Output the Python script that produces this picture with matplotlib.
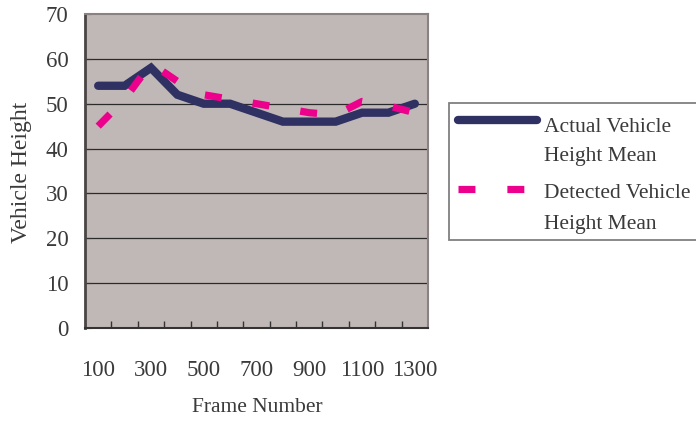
import matplotlib
matplotlib.use("Agg")
import matplotlib.pyplot as plt
from matplotlib.lines import Line2D
from matplotlib.patches import Rectangle
import numpy as np

plt.rcParams['font.family'] = ['Liberation Serif', 'DejaVu Serif']
plt.rcParams['lines.scale_dashes'] = False

frames = [100, 200, 300, 400, 500, 600, 700, 800, 900, 1000, 1100, 1200, 1300]
actual_mean = [54, 54, 58, 52, 50, 50, 48, 46, 46, 46, 48, 48, 50]
detected_mean = [45, 51, 59, 55, 52, 51, 50, 49, 48, 47.5, 50.5, 49.5, 48]
y_ticks = [0, 10, 20, 30, 40, 50, 60, 70]

navy = '#2f3163'
magenta = '#ec008c'
text_col = '#3a3a3a'
dash_pattern = (0, (12.2, 22.6))

W, H = 696, 425
fig = plt.figure(figsize=(W / 100, H / 100), dpi=100)
ax = fig.add_axes([85 / W, (H - 328) / H, (428 - 85) / W, (328 - 14) / H])
ax.set_facecolor('#c0b8b6')

x = np.arange(len(frames))
ax.plot(x, actual_mean, color=navy, lw=6.0, solid_capstyle='round',
        solid_joinstyle='miter', zorder=3)
ax.plot(x, detected_mean, color=magenta, lw=5.2, linestyle=dash_pattern,
        dash_capstyle='butt', zorder=4)

ax.set_xlim(-0.5, len(frames) - 0.5)
ax.set_ylim(0, 70)
ax.set_yticks(y_ticks)
ax.set_yticklabels([str(v) for v in y_ticks])
for v in y_ticks[1:-1]:
    ax.axhline(v, color='#2a2a2a', lw=0.9, zorder=1)

ax.set_xticks(x[::2])
ax.set_xticklabels([str(f) for f in frames[::2]])
ax.set_xticks(np.arange(0.5, len(frames) - 0.5, 1.0), minor=True)
ax.tick_params(axis='x', which='major', length=0, pad=23, labelsize=16.5,
               labelcolor=text_col)
ax.tick_params(axis='x', which='minor', direction='in', length=5,
               color='#333333', width=1)
ax.tick_params(axis='y', direction='in', length=4, pad=12, labelsize=16.5,
               labelcolor=text_col, color='#333333')

for side in ['top', 'right']:
    ax.spines[side].set_color('#8a8282')
    ax.spines[side].set_linewidth(1.5)
ax.spines['left'].set_color('#4a4444')
ax.spines['left'].set_linewidth(2)
ax.spines['bottom'].set_color('#333333')
ax.spines['bottom'].set_linewidth(1.5)

ax.set_xlabel('Frame Number', fontsize=15.5, color=text_col)
ax.xaxis.set_label_coords((257 - 85) / 343, -(408 - 328) / 314)
ax.xaxis.label.set_va('center')
ax.set_ylabel('Vehicle Height', fontsize=17, color=text_col)
ax.yaxis.set_label_coords((22 - 85) / 343, (328 - 172) / 314)
ax.yaxis.label.set_va('center')

# legend box
fig.add_artist(Rectangle((449 / W, (H - 240) / H), (W + 5 - 449) / W, (240 - 103) / H,
                         transform=fig.transFigure, facecolor='white',
                         edgecolor='#808080', lw=1.3, zorder=5))
fig.add_artist(Line2D([458 / W, 537 / W], [(H - 120) / H] * 2,
                      transform=fig.transFigure, color=navy, lw=6.0,
                      solid_capstyle='round', zorder=6))
fig.add_artist(Line2D([458 / W, 540 / W], [(H - 189) / H] * 2,
                      transform=fig.transFigure, color=magenta, lw=5.2,
                      linestyle=(0, (12.2, 23.0)), dash_capstyle='butt', zorder=6))
fig.text(544 / W, (H - 127) / H, 'Actual Vehicle', fontsize=15.5,
         color=text_col, va='center', ha='left', zorder=7)
fig.text(544 / W, (H - 157) / H, 'Height Mean', fontsize=15.5,
         color=text_col, va='center', ha='left', zorder=7)
fig.text(544 / W, (H - 194) / H, 'Detected Vehicle', fontsize=15.5,
         color=text_col, va='center', ha='left', zorder=7)
fig.text(544 / W, (H - 224) / H, 'Height Mean', fontsize=15.5,
         color=text_col, va='center', ha='left', zorder=7)

fig.savefig('out.png', dpi=100)
